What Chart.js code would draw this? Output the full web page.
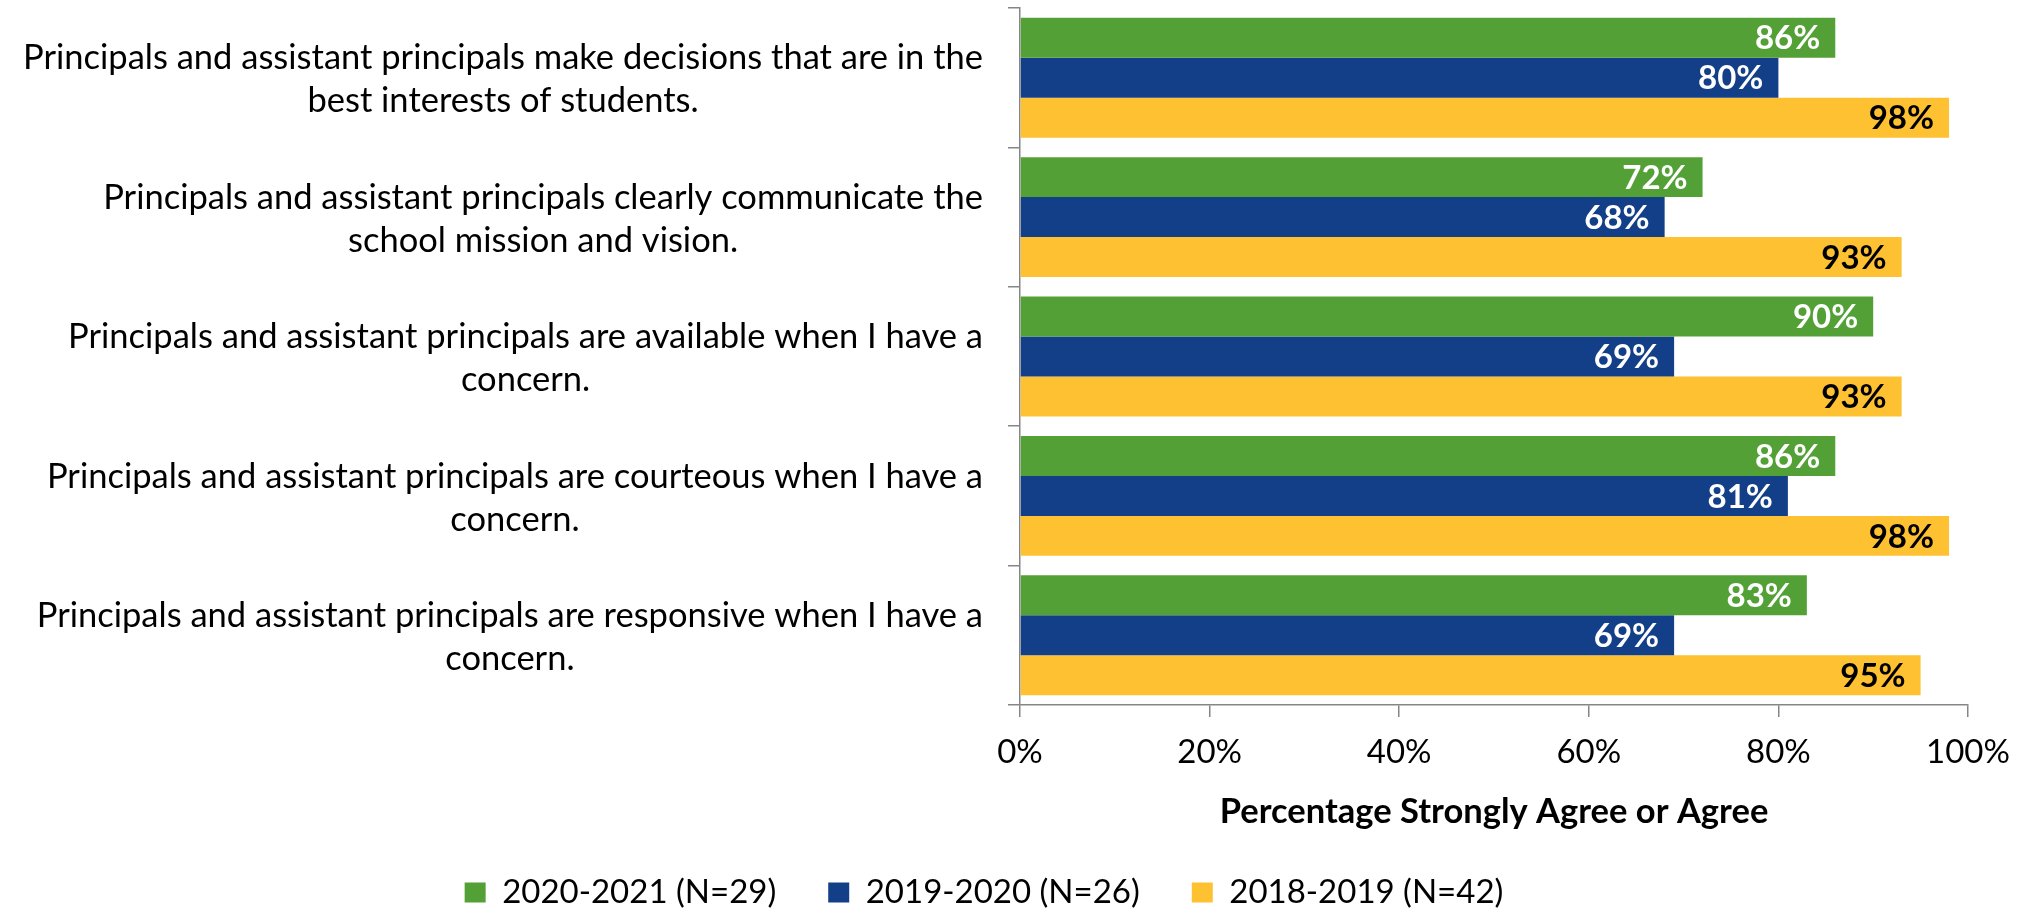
<!DOCTYPE html>
<html>
<head>
<meta charset="utf-8">
<script src="https://cdn.jsdelivr.net/npm/chart.js@4.4.1/dist/chart.umd.min.js"></script>
<style>
  html, body { margin: 0; padding: 0; background: #fff; }
</style>
</head>
<body>
<canvas id="surveyChart" width="2028" height="909"></canvas>
<script>
// Survey items, wrapped as in the original chart
const categories = [
  ['Principals and assistant principals make decisions that are in the', 'best interests of students.'],
  ['Principals and assistant principals clearly communicate the', 'school mission and vision.'],
  ['Principals and assistant principals are available when I have a', 'concern.'],
  ['Principals and assistant principals are courteous when I have a', 'concern.'],
  ['Principals and assistant principals are responsive when I have a', 'concern.'],
];

const seriesLabels = ['2020-2021 (N=29)', '2019-2020 (N=26)', '2018-2019 (N=42)'];
const values2021 = [86, 72, 90, 86, 83];
const values2020 = [80, 68, 69, 81, 69];
const values2019 = [98, 93, 93, 98, 95];

const xMin = 0;
const xMax = 100;
const xStep = 20;
const axisTitle = 'Percentage Strongly Agree or Agree';

const FONT = 'Lato';
const AXIS_GREY = '#868686';

// draws the wrapped category text, each block centred on its widest line
const categoryLabels = {
  id: 'categoryLabels',
  afterDraw(chart) {
    const { ctx } = chart;
    const y = chart.scales.y;
    ctx.save();
    ctx.font = '34.5px ' + FONT;
    ctx.fillStyle = '#000';
    ctx.textAlign = 'center';
    ctx.textBaseline = 'middle';
    const lineHeight = 43;
    const rightEdge = y.right - 37;
    categories.forEach((lines, i) => {
      const maxW = Math.max(...lines.map(l => ctx.measureText(l).width));
      const cx = rightEdge - maxW / 2;
      const cy = y.getPixelForValue(i) + 2;
      lines.forEach((line, j) => {
        ctx.fillText(line, cx, cy + (j - (lines.length - 1) / 2) * lineHeight);
      });
    });
    ctx.restore();
  }
};

// value labels inside the bar ends
const barValueLabels = {
  id: 'barValueLabels',
  afterDatasetsDraw(chart) {
    const { ctx } = chart;
    ctx.save();
    ctx.font = 'bold 33px ' + FONT;
    ctx.textAlign = 'right';
    ctx.textBaseline = 'middle';
    chart.data.datasets.forEach((ds, di) => {
      const meta = chart.getDatasetMeta(di);
      ctx.fillStyle = ds.valueColor;
      meta.data.forEach((bar, i) => {
        ctx.fillText(ds.data[i] + '%', bar.x - 15, bar.y + 1);
      });
    });
    ctx.restore();
  }
};

const ctx = document.getElementById('surveyChart').getContext('2d');

new Chart(ctx, {
  type: 'bar',
  data: {
    labels: categories,
    datasets: [
      { label: seriesLabels[0], data: values2021, backgroundColor: '#53A136', valueColor: '#fff' },
      { label: seriesLabels[1], data: values2020, backgroundColor: '#133F88', valueColor: '#fff' },
      { label: seriesLabels[2], data: values2019, backgroundColor: '#FEC131', valueColor: '#000' },
    ],
  },
  options: {
    indexAxis: 'y',
    responsive: false,
    animation: false,
    datasets: {
      bar: {
        categoryPercentage: 0.86,
        barPercentage: 1.0,
        borderWidth: 0,
      },
    },
    layout: {
      padding: { top: 8, right: 60, bottom: -10, left: 0 },
    },
    scales: {
      y: {
        type: 'category',
        ticks: { display: false },
        grid: {
          offset: true,
          drawOnChartArea: false,
          drawTicks: true,
          tickLength: 12,
          color: AXIS_GREY,
          lineWidth: 1.5,
        },
        border: { color: AXIS_GREY, width: 1.5 },
        afterFit(scale) {
          scale.width = 1020;
        },
      },
      x: {
        min: xMin,
        max: xMax,
        ticks: {
          stepSize: xStep,
          padding: 16,
          color: '#000',
          font: { family: FONT, size: 33 },
          callback: v => v + '%',
        },
        grid: {
          drawOnChartArea: false,
          drawTicks: true,
          tickLength: 12,
          color: AXIS_GREY,
          lineWidth: 1.5,
        },
        border: { color: AXIS_GREY, width: 1.5 },
        title: {
          display: true,
          text: axisTitle,
          color: '#000',
          padding: 0,
          font: { family: FONT, size: 34.5, weight: 'bold', lineHeight: '24px' },
        },
        afterFit(scale) {
          scale.height = 119;
        },
      },
    },
    plugins: {
      legend: {
        position: 'bottom',
        labels: {
          color: '#000',
          font: { family: FONT, size: 33 },
          boxWidth: 21,
          boxHeight: 20,
          padding: 52,
        },
      },
      tooltip: { enabled: false },
    },
  },
  plugins: [categoryLabels, barValueLabels],
});
</script>
</body>
</html>
